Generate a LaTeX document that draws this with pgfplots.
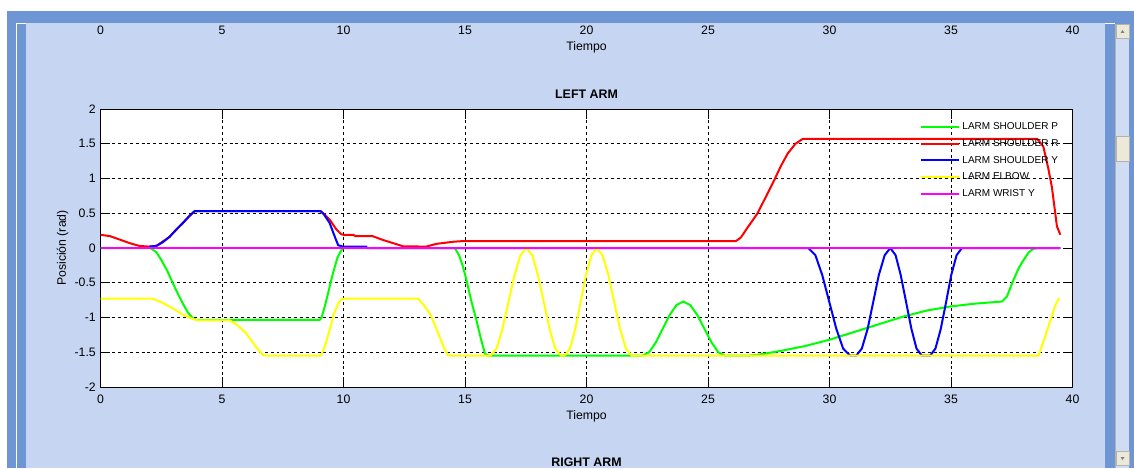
\documentclass[border=0pt]{standalone}
\usepackage{fontspec}
\setmainfont{Liberation Sans}
\usepackage{pgfplots}
\pgfplotsset{compat=1.18}
\definecolor{frameblue}{RGB}{110,150,212}
\definecolor{panelblue}{RGB}{198,214,242}
\definecolor{btn}{RGB}{236,233,216}
\definecolor{track}{RGB}{208,220,242}
\newcommand{\tickfont}{\fontsize{9.2}{11}\selectfont}
\newcommand{\titlefont}{\fontsize{9.3}{11}\selectfont\bfseries}
\pgfplotsset{
  matlab/.style={
    scale only axis, width=729pt,
    xmin=0, xmax=40,
    xtick={0,5,10,15,20,25,30,35,40},
    /pgf/number format/assume math mode=true,
    tick label style={font=\tickfont},
    xticklabel style={yshift=-2.5pt},
    label style={font=\tickfont},
    xlabel={Tiempo},
    xlabel style={at={(axis description cs:0.5,0)}, anchor=center, yshift=-22pt},
  }
}
\begin{document}
\begin{tikzpicture}[x=0.75pt,y=0.75pt]
\useasboundingbox (0,0) rectangle (1134,468);
\clip (0,0) rectangle (1134,468);
% GUI frame
\fill[white] (0,0) rectangle (1134,468);
\fill[frameblue] (7,0) rectangle (1134,457);
\draw[white, line width=0.75pt] (16.5,0) -- (16.5,444.5) -- (1115,444.5);
\fill[panelblue] (26,0) rectangle (1105,445);
\fill[track] (1115,0) rectangle (1129,444);
\draw[gray!60, line width=0.75pt] (1115.5,0) -- (1115.5,444);
\filldraw[fill=btn, draw=gray!60, line width=0.5pt] (1116,430) rectangle (1129,444);
\fill[gray] (1120.5,435) -- (1124.5,435) -- (1122.5,438) -- cycle;
\filldraw[fill=btn, draw=gray!60, line width=0.5pt] (1116,307) rectangle (1129,332);
\filldraw[fill=btn, draw=gray!60, line width=0.5pt] (1116,2.5) rectangle (1129,17);
\fill[gray] (1120.5,11) -- (1124.5,11) -- (1122.5,8) -- cycle;
\node[font=\titlefont, anchor=center] at (586.5,6) {RIGHT ARM};

% partial axis above (previous plot)
\begin{axis}[matlab,
  at={(75.375pt,337.5pt)}, anchor=south west, height=60pt,
  ymin=0, ymax=1, ytick=\empty,
  axis x line*=bottom, axis y line=none,
  x axis line style={draw=none}, xtick style={draw=none},
]
\end{axis}

% LEFT ARM
\begin{axis}[matlab,
  at={(75.375pt,60.75pt)}, anchor=south west, height=208.5pt,
  ymin=-2, ymax=2,
  ytick={-2,-1.5,-1,-0.5,0,0.5,1,1.5,2},
  yticklabel style={/pgf/number format/fixed},
  ylabel={Posición (rad)},
  ylabel style={at={(axis description cs:-0.039,0.5)}, anchor=center},
  title={LEFT ARM},
  every axis title shift=0pt,
  title style={font=\titlefont, at={(axis description cs:0.5,1.054)}, anchor=center},
  tick align=inside, major tick length=7.3pt,
  axis line style={line width=0.75pt},
  every tick/.style={black, line width=0.75pt},
  grid=major,
  grid style={black, line width=0.6pt, dash pattern=on 2.2pt off 2.2pt},
  axis background/.style={fill=white},
  legend cell align=left,
  legend image code/.code={\draw[#1, line width=1.5pt] (0pt,0pt) -- (29pt,0pt);},
  legend style={at={(rel axis cs:0.988,0.96)}, anchor=north east,
    draw=none, fill=none, inner sep=0pt, row sep=2.5pt,
    font=\fontsize{7.5}{9}\selectfont,
    nodes={inner sep=1.5pt, text height=5.6pt, text depth=1.4pt}},
  every axis plot/.append style={line width=1.5pt, line join=round},
]
% LARM SHOULDER P
\addplot[color={rgb,1:red,0;green,1;blue,0}] coordinates {
(0,0) (2.05,0) (2.3,-0.06) (2.5,-0.17) (2.75,-0.33) (2.98,-0.51) (3.2,-0.67) (3.39,-0.80) (3.6,-0.93) (3.8,-1.01) (3.95,-1.035) (9.02,-1.035) (9.1,-1.0) (9.23,-0.84) (9.4,-0.6) (9.57,-0.36) (9.75,-0.14) (9.91,-0.03) (10.0,0) (14.58,0) (14.75,-0.1) (14.9,-0.25) (15.06,-0.46) (15.25,-0.75) (15.47,-1.04) (15.65,-1.3) (15.82,-1.52) (15.95,-1.55)
(22.3,-1.55) (22.58,-1.498) (22.86,-1.355) (23.14,-1.16) (23.42,-0.965) (23.7,-0.822) (23.98,-0.77) (24.27,-0.822) (24.56,-0.965) (24.85,-1.16) (25.14,-1.355) (25.42,-1.498) (25.7,-1.55)
(26.6,-1.55) (27,-1.54) (28,-1.48) (29,-1.41) (30,-1.32) (31,-1.21) (32,-1.1) (33,-0.99) (34,-0.9) (35,-0.84) (36,-0.8) (37.1,-0.77) (37.3,-0.7) (37.57,-0.46) (37.8,-0.28) (37.99,-0.17) (38.2,-0.06) (38.4,-0.01) (38.6,0) (39.5,0)
};
\addlegendentry{LARM SHOULDER P}
% LARM SHOULDER R
\addplot[color={rgb,1:red,1;green,0;blue,0}] coordinates {
(0,0.19) (0.4,0.17) (0.8,0.12) (1.2,0.07) (1.6,0.03) (2.0,0.02) (2.3,0.03) (2.84,0.16) (3.39,0.36) (3.87,0.53) (9.06,0.53) (9.2,0.49) (9.45,0.4) (9.7,0.27) (9.9,0.2) (10.0,0.19) (10.4,0.19) (10.5,0.17) (11.2,0.17) (11.63,0.115) (12.04,0.07) (12.45,0.025) (13.4,0.02) (13.83,0.06) (14.52,0.09) (14.93,0.1) (26.15,0.1) (26.35,0.15) (26.6,0.28) (27.04,0.5) (27.4,0.75) (27.73,0.98) (28.0,1.18) (28.28,1.36) (28.6,1.5) (28.9,1.57) (38.55,1.57) (38.8,1.46) (39.0,1.15) (39.15,0.88) (39.36,0.31) (39.5,0.19)
};
\addlegendentry{LARM SHOULDER R}
% LARM SHOULDER Y
\addplot[color={rgb,1:red,0;green,0;blue,1}] coordinates {
(2.0,0.02) (2.3,0.03) (2.55,0.08) (2.84,0.16) (3.1,0.26) (3.39,0.36) (3.65,0.46) (3.87,0.53) (9.06,0.53) (9.2,0.48) (9.43,0.36) (9.6,0.2) (9.78,0.04) (9.98,0.02) (10.94,0.02) (10.95,0)
(29.13,0) (29.42,-0.104) (29.70,-0.388) (29.99,-0.775) (30.28,-1.163) (30.56,-1.446) (30.85,-1.55) (31.1,-1.55) (31.33,-1.446) (31.57,-1.163) (31.8,-0.775) (32.03,-0.388) (32.27,-0.104) (32.5,0)
(32.72,-0.104) (32.93,-0.388) (33.15,-0.775) (33.37,-1.163) (33.58,-1.446) (33.8,-1.55) (34.14,-1.55) (34.36,-1.446) (34.58,-1.163) (34.8,-0.775) (35.01,-0.388) (35.23,-0.104) (35.45,0) (39.5,0)
};
\addlegendentry{LARM SHOULDER Y}
% LARM ELBOW
\addplot[color={rgb,1:red,1;green,1;blue,0}] coordinates {
(0,-0.73) (2.15,-0.73) (2.5,-0.78) (2.98,-0.87) (3.4,-0.96) (3.8,-1.02) (4.0,-1.04) (5.31,-1.04) (5.6,-1.1) (6.0,-1.23) (6.35,-1.4) (6.68,-1.54) (6.85,-1.55) (9.06,-1.55) (9.2,-1.45) (9.43,-1.18) (9.6,-0.95) (9.78,-0.8) (9.9,-0.74) (10.0,-0.73) (13.07,-0.73) (13.3,-0.82) (13.55,-0.94) (13.75,-1.1) (13.96,-1.28) (14.15,-1.45) (14.3,-1.54) (14.45,-1.55)
(16.05,-1.55) (16.30,-1.446) (16.54,-1.163) (16.79,-0.775) (17.04,-0.388) (17.28,-0.104) (17.53,0) (17.77,-0.104) (18.0,-0.388) (18.24,-0.775) (18.48,-1.163) (18.71,-1.446) (18.95,-1.55)
(19.1,-1.55) (19.32,-1.446) (19.54,-1.163) (19.76,-0.775) (19.98,-0.388) (20.2,-0.104) (20.42,0) (20.66,-0.104) (20.9,-0.388) (21.14,-0.775) (21.38,-1.163) (21.62,-1.446) (21.86,-1.55)
(38.6,-1.55) (38.85,-1.3) (39.09,-1.04) (39.3,-0.82) (39.45,-0.72)
};
\addlegendentry{LARM ELBOW}
% LARM WRIST Y
\addplot[color={rgb,1:red,1;green,0;blue,1}] coordinates {
(0,0) (39.5,0)
};
\addlegendentry{LARM WRIST Y}
\end{axis}
\end{tikzpicture}
\end{document}
